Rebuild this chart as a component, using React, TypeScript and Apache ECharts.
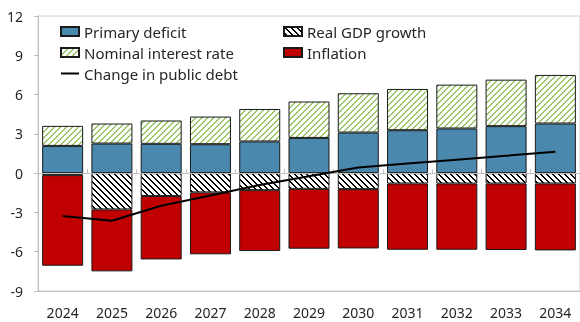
import React, { useEffect, useRef } from 'react';
import * as echarts from 'echarts';

const years = ['2024', '2025', '2026', '2027', '2028', '2029', '2030', '2031', '2032', '2033', '2034'];
const primaryDeficit = [2.08, 2.26, 2.24, 2.21, 2.42, 2.69, 3.1, 3.28, 3.41, 3.59, 3.79];
const nominalInterest = [1.53, 1.53, 1.78, 2.11, 2.48, 2.78, 3.0, 3.15, 3.35, 3.55, 3.71];
const realGdpGrowth = [-0.15, -2.77, -1.75, -1.47, -1.3, -1.2, -1.22, -0.79, -0.79, -0.79, -0.79];
const inflation = [-6.92, -4.73, -4.84, -4.73, -4.65, -4.57, -4.53, -5.06, -5.06, -5.08, -5.11];
const debtChange = [-3.28, -3.64, -2.49, -1.7, -0.9, -0.24, 0.43, 0.73, 1.03, 1.33, 1.63];

const FONT = '"Noto Sans", "Open Sans", sans-serif';
const TEXT = '#262626';

function makePattern(kind: 'green' | 'black') {
  const size = 6;
  const c = document.createElement('canvas');
  c.width = size;
  c.height = size;
  const ctx = c.getContext('2d')!;
  ctx.fillStyle = '#ffffff';
  ctx.fillRect(0, 0, size, size);
  for (let x = 0; x < size; x++) {
    for (let y = 0; y < size; y++) {
      if (kind === 'green') {
        const d = (x + y) % size;
        if (d === 0 || d === 1) {
          ctx.fillStyle = '#9cc86c';
          ctx.fillRect(x, y, 1, 1);
        }
      } else {
        const d = (((x - y) % size) + size) % size;
        if (d === 0 || d === 1) {
          ctx.fillStyle = '#000000';
          ctx.fillRect(x, y, 1, 1);
        }
      }
    }
  }
  return c;
}

export default function App() {
  const ref = useRef<HTMLDivElement>(null);
  useEffect(() => {
    if (!ref.current) return;
    const chart = echarts.init(ref.current, undefined, { renderer: 'svg' });
    const greenPat = { image: makePattern('green'), repeat: 'repeat' };
    const blackPat = { image: makePattern('black'), repeat: 'repeat' };
    const border = { borderColor: '#1a1a1a', borderWidth: 1 };
    const barW = 41;
    const legendText = { fontFamily: FONT, fontSize: 15, color: TEXT, lineHeight: 21 };
    chart.setOption({
      animation: false,
      textStyle: { fontFamily: FONT, color: TEXT },
      grid: { left: 38, top: 16, right: -4, bottom: 31, show: true, borderColor: '#d0d0d0', borderWidth: 1 },
      legend: [
        {
          orient: 'vertical', left: 55, top: 16, padding: 5, itemWidth: 18, itemHeight: 9, itemGap: 0, itemTextGap: 2,
          textStyle: legendText,
          data: [
            { name: 'Primary deficit', icon: 'rect' },
            { name: 'Nominal interest rate', icon: 'rect' },
            { name: 'Change in public debt', itemStyle: { opacity: 0, color: 'transparent', borderWidth: 0 } },
          ],
        },
        {
          orient: 'vertical', left: 278, top: 16, padding: 5, itemWidth: 18, itemHeight: 9, itemGap: 0, itemTextGap: 2,
          textStyle: legendText,
          data: [
            { name: 'Real GDP growth', icon: 'rect' },
            { name: 'Inflation', icon: 'rect' },
          ],
        },
      ],
      xAxis: [
        {
          type: 'category', data: years, z: 5,
          axisLine: { onZero: true, lineStyle: { color: '#bfbfbf', width: 1 } },
          axisTick: { show: true, inside: true, length: 4, lineStyle: { color: '#bfbfbf' } },
          axisLabel: { show: false },
          splitLine: { show: false },
        },
        {
          type: 'category', data: years, position: 'bottom',
          axisLine: { show: true, onZero: false, lineStyle: { color: '#bfbfbf' } },
          axisTick: { show: false },
          axisLabel: { fontFamily: FONT, fontSize: 14, color: TEXT, margin: 14 },
          splitLine: { show: false },
        },
      ],
      yAxis: {
        type: 'value', min: -9, max: 12, interval: 3,
        axisLine: { show: true, lineStyle: { color: '#bfbfbf' } },
        axisTick: { show: true, inside: false, length: 4, lineStyle: { color: '#bfbfbf' } },
        axisLabel: { fontFamily: FONT, fontSize: 14, color: TEXT, margin: 15 },
        splitLine: { show: false },
      },
      series: [
        { name: 'Primary deficit', type: 'bar', stack: 's', barWidth: barW, data: primaryDeficit, itemStyle: { color: '#4a88ad', ...border } },
        { name: 'Real GDP growth', type: 'bar', stack: 's', barWidth: barW, data: realGdpGrowth, itemStyle: { color: blackPat, ...border } },
        { name: 'Nominal interest rate', type: 'bar', stack: 's', barWidth: barW, data: nominalInterest, itemStyle: { color: greenPat, ...border } },
        { name: 'Inflation', type: 'bar', stack: 's', barWidth: barW, data: inflation, itemStyle: { color: '#c00000', ...border } },
        {
          name: 'Change in public debt', type: 'line', data: debtChange, z: 10,
          symbol: 'none', showSymbol: false, lineStyle: { color: '#000000', width: 2 }, itemStyle: { color: '#000000' },
        },
      ],
    });
    return () => chart.dispose();
  }, []);
  return <div ref={ref} style={{ position: 'fixed', left: 0, top: 0, width: 580, height: 322 }} />;
}
